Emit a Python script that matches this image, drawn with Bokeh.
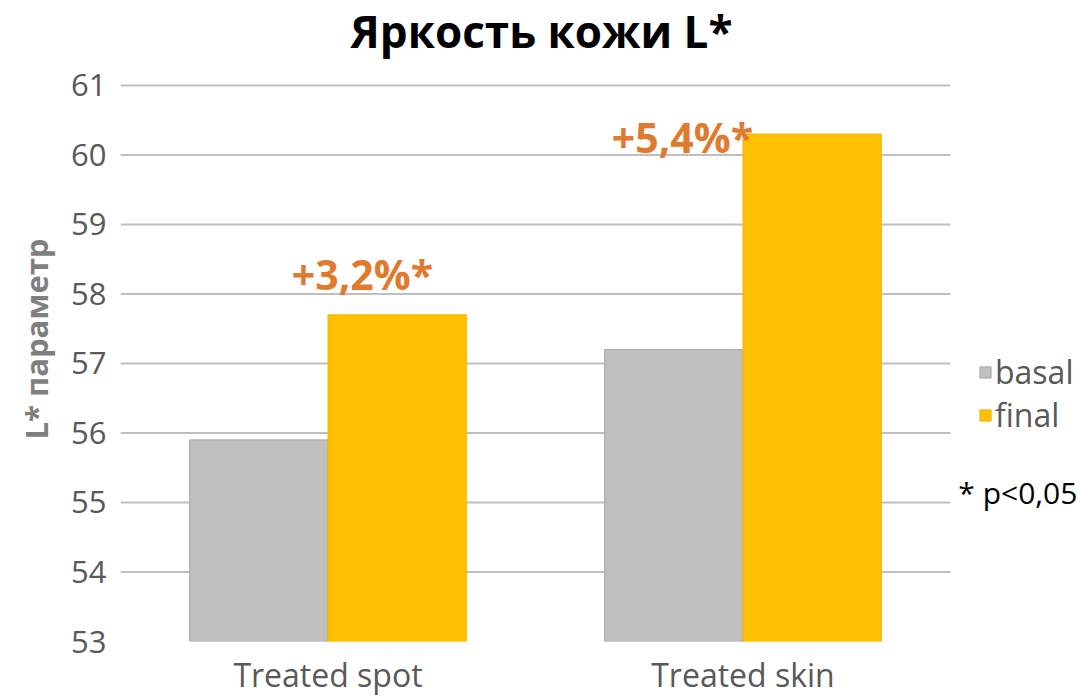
import numpy as np
from bokeh.plotting import figure
from bokeh.models import (ColumnDataSource, Label, Legend, LegendItem, FixedTicker,
                          Range1d, Title)
from bokeh.embed import file_html
from bokeh.resources import INLINE

# ---- data ----
categories = ["Treated spot", "Treated skin"]
basal = [55.9, 57.2]
final = [57.7, 60.3]
changes = ["+3,2%*", "+5,4%*"]
y_ticks = [53, 54, 55, 56, 57, 58, 59, 60, 61]
title_text = "Яркость кожи L*"
y_label_text = "L* параметр"
note_text = "* p<0,05"

FONT = "Open Sans"
BAR_W = 1 / 3

xc = np.arange(len(categories)) + 0.5          # category centres on the x scale
src = ColumnDataSource(dict(x_basal=xc - BAR_W / 2, x_final=xc + BAR_W / 2,
                            basal=basal, final=final))

# frame: left edge at 120px, spans to the right edge; 53..61 occupies 642..85px
p = figure(width=1089, height=698,
           x_range=Range1d(0, 2.335), y_range=Range1d(53, 62.221),
           output_backend="svg", toolbar_location=None,
           min_border_left=120, min_border_right=0, min_border_top=0, min_border_bottom=56)
p.outline_line_color = None
p.background_fill_color = "white"
p.border_fill_color = "white"
p.grid.visible = False

# y axis
p.yaxis.ticker = FixedTicker(ticks=y_ticks)
p.yaxis.axis_line_color = None
p.yaxis.major_tick_line_color = None
p.yaxis.minor_tick_line_color = None
p.yaxis.major_tick_out = 0
p.yaxis.major_tick_in = 0
p.yaxis.minor_tick_out = 0
p.yaxis.major_label_text_font = FONT
p.yaxis.major_label_text_font_size = "31px"
p.yaxis.major_label_text_color = "#595959"
p.yaxis.major_label_standoff = 14

# y label as a rotated title in the left panel (starts ~440px from top)
p.add_layout(Title(text=y_label_text, text_font=FONT, text_font_style="bold",
                   text_font_size="31px", text_color="#7F7F7F", align="left",
                   offset=202, standoff=23), "left")

# x axis with category names
p.xaxis.ticker = FixedTicker(ticks=list(xc))
p.xaxis.major_label_overrides = {float(v): c for v, c in zip(xc, categories)}
p.xaxis.axis_line_color = None
p.xaxis.major_tick_line_color = None
p.xaxis.minor_tick_line_color = None
p.xaxis.major_tick_out = 0
p.xaxis.major_tick_in = 0
p.xaxis.minor_tick_out = 0
p.xaxis.major_label_text_font = FONT
p.xaxis.major_label_text_font_size = "32px"
p.xaxis.major_label_text_color = "#595959"
p.xaxis.major_label_standoff = 11

# horizontal grid lines across the category area (54..61)
grid_y = y_ticks[1:]
p.segment(x0=0, x1=len(categories), y0=grid_y, y1=grid_y,
          line_color="#BFBFBF", line_width=2)

# bars
rb = p.vbar(x="x_basal", top="basal", bottom=y_ticks[0], width=BAR_W, source=src,
            fill_color="#BFBFBF", line_color="#A6A6A6", line_width=1)
rf = p.vbar(x="x_final", top="final", bottom=y_ticks[0], width=BAR_W, source=src,
            fill_color="#FFC000", line_color="#F2B600", line_width=1)

# change annotations (positions are layout offsets)
ann_x = [0.583, 1.354]
ann_y = [58.29, 60.255]
for tx, ax, ay in zip(changes, ann_x, ann_y):
    p.add_layout(Label(x=ax, y=ay, text=tx, text_font=FONT, text_font_style="bold",
                       text_font_size="41px", text_color="#E07A2E",
                       text_align="center", text_baseline="alphabetic"))

# title
p.add_layout(Label(x=1.0145, y=61.78, text=title_text, text_font=FONT,
                   text_font_style="bold", text_font_size="44px", text_color="black",
                   text_align="center", text_baseline="alphabetic"))

# note
p.add_layout(Label(x=2.019, y=55.15, text=note_text, text_font=FONT,
                   text_font_size="30px", text_color="black",
                   text_align="left", text_baseline="alphabetic"))

# legend
legend = Legend(items=[LegendItem(label="basal", renderers=[rb]),
                       LegendItem(label="final", renderers=[rf])],
                location=(858, 205), orientation="vertical",
                glyph_width=14, glyph_height=14, label_standoff=3,
                label_text_font=FONT, label_text_font_size="32px",
                label_text_color="#595959", padding=0, margin=0, spacing=0,
                border_line_color=None, background_fill_alpha=0)
p.add_layout(legend, "center")

open("out.html", "w").write(file_html(p, INLINE))
